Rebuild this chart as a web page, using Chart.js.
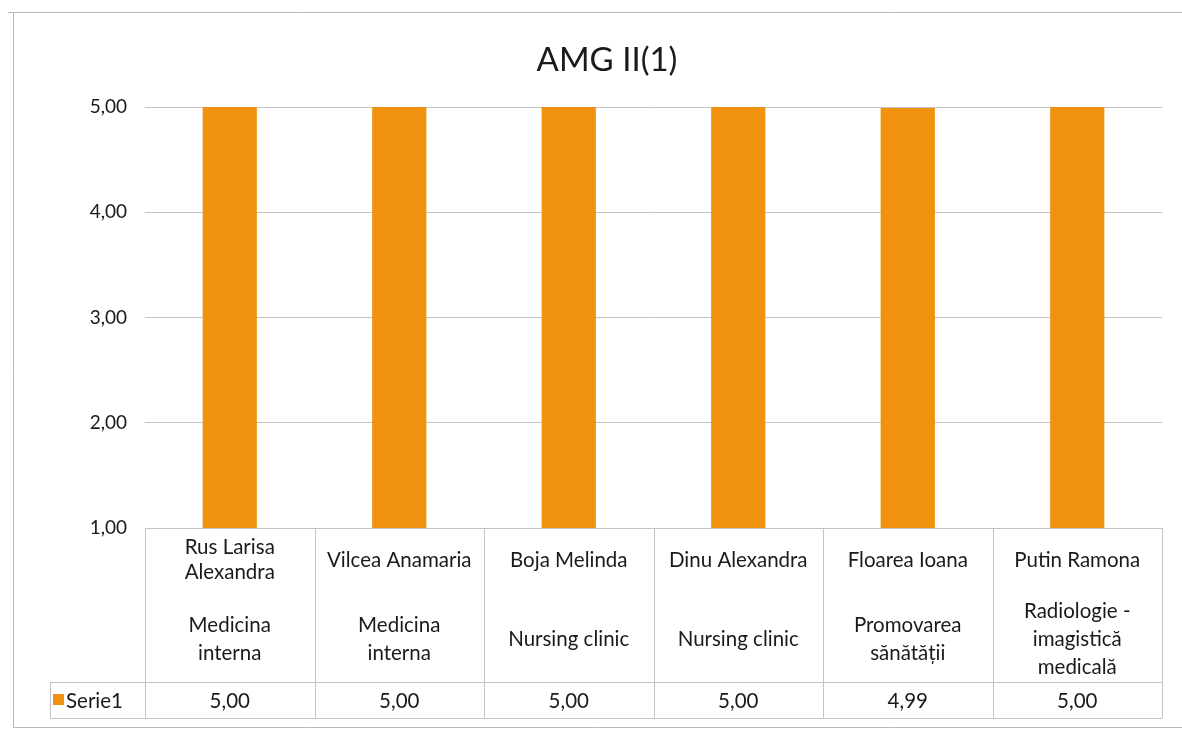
<!DOCTYPE html>
<html>
<head>
<meta charset="utf-8">
<script src="https://cdn.jsdelivr.net/npm/chart.js@4.4.1/dist/chart.umd.min.js"></script>
<style>
  html, body { margin: 0; padding: 0; background: #fff; }
  #wrap { width: 1182px; height: 729px; }
</style>
</head>
<body>
<div id="wrap"><canvas id="amg-chart" width="1182" height="729"></canvas></div>
<script>
  // date
  const titlu = 'AMG II(1)';
  const numeSerie = 'Serie1';
  const nume = [['Rus Larisa', 'Alexandra'], ['Vilcea Anamaria'], ['Boja Melinda'], ['Dinu Alexandra'], ['Floarea Ioana'], ['Putin Ramona']];
  const specialitati = [['Medicina', 'interna'], ['Medicina', 'interna'], ['Nursing clinic'], ['Nursing clinic'], ['Promovarea', 'sănătății'], ['Radiologie -', 'imagistică', 'medicală']];
  const valori = [5.00, 5.00, 5.00, 5.00, 4.99, 5.00];
  const tickuri = [1, 2, 3, 4, 5];

  const portocaliu = '#f0920f';
  const gri = '#c4c4c4';
  const FONT = 'Lato, "Open Sans", sans-serif';

  const fmt = (v) => v.toFixed(2).replace('.', ',');

  // tabelul de date sub axa X (ca in Excel)
  const tabelPlugin = {
    id: 'tabel',
    afterDraw: function (chart) {
      const ctx = chart.ctx;
      const x = chart.scales.x;
      const area = chart.chartArea;
      const top = area.bottom;
      const randVal = 682;
      const jos = 718;
      const stangaLegenda = 50;
      const lat = x.width / chart.data.labels.length;

      ctx.save();
      ctx.strokeStyle = gri;
      ctx.lineWidth = 1;
      ctx.beginPath();
      ctx.moveTo(area.left, top + 0.5); ctx.lineTo(area.right, top + 0.5);
      ctx.moveTo(stangaLegenda, randVal + 0.5); ctx.lineTo(area.right, randVal + 0.5);
      ctx.moveTo(stangaLegenda, jos + 0.5); ctx.lineTo(area.right, jos + 0.5);
      ctx.moveTo(stangaLegenda + 0.5, randVal); ctx.lineTo(stangaLegenda + 0.5, jos);
      for (let i = 0; i <= chart.data.labels.length; i++) {
        const px = Math.round(x.getPixelForValue(0) - lat / 2 + i * lat) + 0.5;
        ctx.moveTo(px, top); ctx.lineTo(px, jos);
      }
      ctx.stroke();

      ctx.fillStyle = '#1a1a1a';
      ctx.font = '20.5px ' + FONT;
      ctx.textAlign = 'center';
      ctx.textBaseline = 'middle';
      const lh = 28;
      chart.data.labels.forEach((lbl, i) => {
        const cx = x.getPixelForValue(i);
        const n = nume[i];
        n.forEach((t, k) => ctx.fillText(t, cx, 560 + (k - (n.length - 1) / 2) * 25));
        const s = specialitati[i];
        s.forEach((t, k) => ctx.fillText(t, cx, 639 + (k - (s.length - 1) / 2) * lh));
        ctx.fillText(fmt(chart.data.datasets[0].data[i]), cx, 701);
      });

      // legenda in tabel
      ctx.fillStyle = portocaliu;
      ctx.fillRect(53, 694, 11, 11);
      ctx.fillStyle = '#1a1a1a';
      ctx.textAlign = 'left';
      ctx.fillText(numeSerie, 66, 701);

      // titlu
      ctx.font = '33px ' + FONT;
      ctx.textAlign = 'center';
      ctx.fillText(titlu, 607, 60);

      // chenarul graficului
      ctx.strokeStyle = '#b8b8b8';
      ctx.beginPath();
      ctx.moveTo(8, 12.5); ctx.lineTo(1182, 12.5);
      ctx.moveTo(13.5, 12); ctx.lineTo(13.5, 727);
      ctx.moveTo(13, 727.5); ctx.lineTo(1182, 727.5);
      ctx.stroke();
      ctx.restore();
    }
  };

  new Chart(document.getElementById('amg-chart'), {
    type: 'bar',
    data: {
      labels: nume.map(n => n.join(' ')),
      datasets: [{
        label: numeSerie,
        data: valori,
        backgroundColor: portocaliu,
        borderWidth: 0,
        barPercentage: 0.32,
        categoryPercentage: 1
      }]
    },
    options: {
      responsive: false,
      animation: false,
      layout: { padding: { top: 107, right: 20, bottom: 201, left: 0 } },
      scales: {
        x: { display: false },
        y: {
          min: 1,
          max: 5,
          afterFit: function (scale) { scale.width = 145; },
          afterBuildTicks: function (scale) { scale.ticks = tickuri.map(v => ({ value: v })); },
          border: { display: false },
          grid: { color: gri, drawTicks: false },
          ticks: {
            padding: 18,
            color: '#1a1a1a',
            font: { family: FONT, size: 19 },
            callback: (v) => fmt(v)
          }
        }
      },
      plugins: {
        legend: { display: false },
        title: { display: false },
        tooltip: { enabled: false }
      }
    },
    plugins: [tabelPlugin]
  });
</script>
</body>
</html>
